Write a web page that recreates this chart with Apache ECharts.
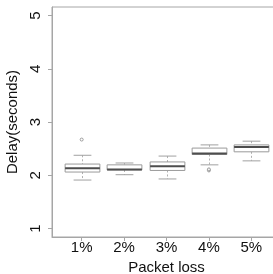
<!DOCTYPE html>
<html>
<head>
<meta charset="utf-8">
<script src="https://cdn.jsdelivr.net/npm/echarts@6/dist/echarts.min.js"></script>
<style>
html, body { margin: 0; padding: 0; background: #fff; }
#container { width: 273px; height: 274px; }
</style>
</head>
<body>
<div id="container"></div>
<script>
var dom = document.getElementById("container");
var myChart = echarts.init(dom);

// packet loss levels and their box statistics (lower whisker, Q1, median, Q3, upper whisker)
var categories = ['1%', '2%', '3%', '4%', '5%'];
var positions = [1, 2, 3, 4, 5];
var lowWhisker = [1.91, 2.01, 1.93, 2.195, 2.27];
var q1 = [2.06, 2.10, 2.09, 2.39, 2.44];
var median = [2.13, 2.11, 2.17, 2.41, 2.53];
var q3 = [2.21, 2.195, 2.25, 2.51, 2.57];
var highWhisker = [2.375, 2.23, 2.36, 2.57, 2.64];
var outliers = [[1, 2.67], [4, 2.09], [4, 2.11]];
var yTicks = [1, 2, 3, 4, 5];

var boxData = positions.map(function (p, i) {
    return [p, lowWhisker[i], q1[i], median[i], q3[i], highWhisker[i]];
});

var font = 'Liberation Sans';
var frame = '#a6a6a6';

function renderBox(params, api) {
    var x = api.value(0);
    var band = api.size([1, 0])[0];
    var half = band * 0.41;
    var cap = band * 0.21;
    var lo = api.coord([x, api.value(1)]);
    var b1 = api.coord([x, api.value(2)]);
    var md = api.coord([x, api.value(3)]);
    var b3 = api.coord([x, api.value(4)]);
    var hi = api.coord([x, api.value(5)]);
    var cx = Math.round(lo[0]) + 0.5;
    var dash = { stroke: '#b0b0b0', lineWidth: 1, lineDash: [2, 2] };
    var solid = { stroke: '#a0a0a0', lineWidth: 1 };
    return {
        type: 'group',
        children: [
            { type: 'line', shape: { x1: cx, y1: hi[1], x2: cx, y2: b3[1] }, style: dash },
            { type: 'line', shape: { x1: cx, y1: b1[1], x2: cx, y2: lo[1] }, style: dash },
            { type: 'line', shape: { x1: cx - cap, y1: hi[1], x2: cx + cap, y2: hi[1] }, style: solid },
            { type: 'line', shape: { x1: cx - cap, y1: lo[1], x2: cx + cap, y2: lo[1] }, style: solid },
            { type: 'rect', shape: { x: cx - half, y: b3[1], width: half * 2, height: b1[1] - b3[1] },
              style: { fill: '#fff', stroke: '#9a9a9a', lineWidth: 1 } },
            { type: 'line', shape: { x1: cx - half, y1: md[1], x2: cx + half, y2: md[1] },
              style: { stroke: '#4d4d4d', lineWidth: 2 } }
        ]
    };
}

var option = {
    animation: false,
    grid: {
        left: 52, top: 7, bottom: 37, right: -8,
        outerBoundsMode: 'none',
        containLabel: false,
        show: true, borderColor: frame, borderWidth: 1, backgroundColor: 'transparent'
    },
    xAxis: {
        type: 'value',
        min: 0.3,
        max: 5.7,
        name: 'Packet loss',
        nameLocation: 'middle',
        nameGap: 16,
        nameTextStyle: { fontFamily: font, fontSize: 15, color: '#111' },
        axisLine: { show: true, lineStyle: { color: frame } },
        axisTick: { show: true, length: 4, customValues: positions, lineStyle: { color: frame } },
        axisLabel: {
            customValues: positions,
            margin: 3,
            fontFamily: font, fontSize: 15, color: '#111',
            formatter: function (v) { return categories[Math.round(v) - 1]; }
        },
        splitLine: { show: false }
    },
    yAxis: {
        type: 'value',
        min: 0.84,
        max: 5.16,
        name: 'Delay(seconds)',
        nameLocation: 'middle',
        nameRotate: 90,
        nameGap: 21,
        nameTextStyle: { fontFamily: font, fontSize: 15, color: '#111' },
        axisLine: { show: true, lineStyle: { color: frame } },
        axisTick: { show: true, length: 4, customValues: yTicks, lineStyle: { color: frame } },
        axisLabel: {
            customValues: yTicks,
            rotate: 90,
            margin: 9,
            fontFamily: font, fontSize: 15, color: '#111'
        },
        splitLine: { show: false }
    },
    series: [
        {
            type: 'custom',
            renderItem: renderBox,
            encode: { x: 0, y: [1, 2, 3, 4, 5] },
            data: boxData
        },
        {
            type: 'scatter',
            symbol: 'circle',
            symbolSize: 3,
            z: 5,
            itemStyle: { color: '#fff', borderColor: '#888', borderWidth: 1 },
            data: outliers
        }
    ]
};

myChart.setOption(option);
</script>
</body>
</html>
